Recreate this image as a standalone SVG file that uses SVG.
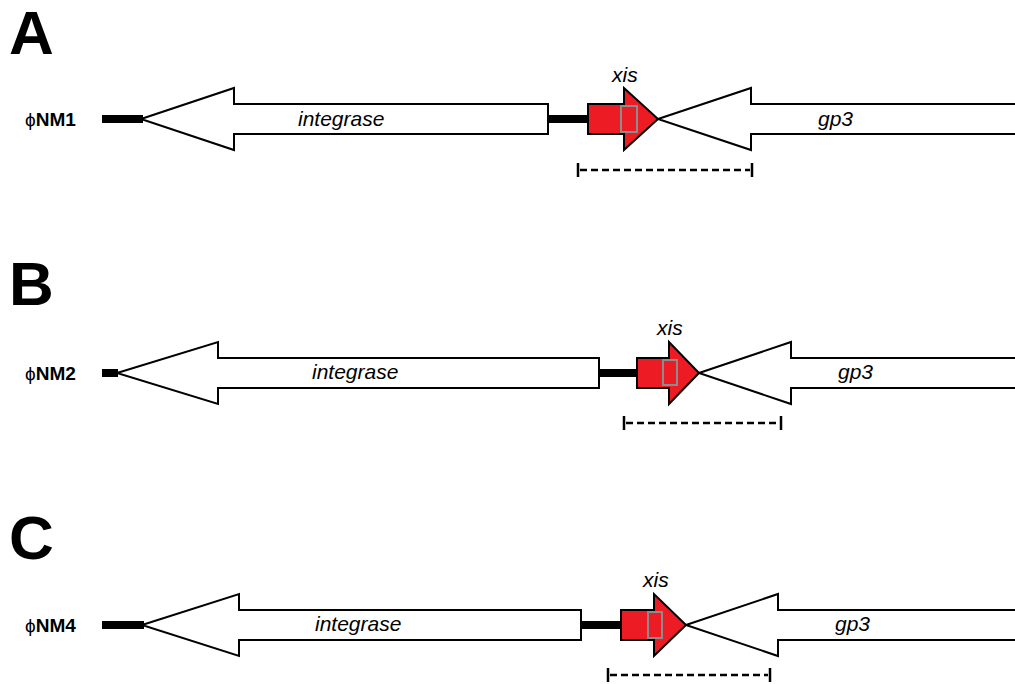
<svg xmlns="http://www.w3.org/2000/svg" width="1015" height="684" viewBox="0 0 1015 684">
<style>
.panel{font-family:"Liberation Sans",Arial,sans-serif;font-weight:bold;font-size:62px;fill:#000}
.name{font-family:"Liberation Sans",Arial,sans-serif;font-weight:bold;font-size:19px;fill:#000}
.phi{font-weight:normal}
.gene{font-family:"Liberation Sans",Arial,sans-serif;font-style:italic;font-size:21px;fill:#000}
.arrow{fill:#fff;stroke:#000;stroke-width:2;stroke-linejoin:miter}
.xis{fill:#ed1c24;stroke:#000;stroke-width:2}
.box{fill:none;stroke:#8c8c8c;stroke-width:2}
.dna{stroke:#000;stroke-width:8;fill:none}
.dash{stroke:#000;stroke-width:2.5;stroke-dasharray:7 4;fill:none}
.tick{stroke:#000;stroke-width:2.5;fill:none}
</style>
<rect width="1015" height="684" fill="#fff"/>

<text class="panel" x="9" y="54">A</text>
<text class="panel" x="9" y="305">B</text>
<text class="panel" x="9" y="559">C</text>

<g id="connectors">
  <line class="dna" x1="102" y1="119" x2="143" y2="119"/>
  <line class="dna" x1="547" y1="119" x2="589" y2="119" stroke-width="9"/>
  <line class="dna" x1="102" y1="373" x2="118" y2="373"/>
  <line class="dna" x1="598" y1="373" x2="638" y2="373" stroke-width="9"/>
  <line class="dna" x1="102" y1="625" x2="144" y2="625"/>
  <line class="dna" x1="580" y1="625" x2="622" y2="625" stroke-width="9"/>
</g>

<g id="rowA">
  <text class="name" x="25" y="126"><tspan class="phi">ϕ</tspan>NM1</text>
  <g id="A-integrase">
    <polygon class="arrow" points="141,119 234,88 234,104 548,104 548,134 234,134 234,150"/>
    <text class="gene" x="298" y="126">integrase</text>
  </g>
  <g id="A-gp3">
    <polygon class="arrow" points="658,119 751,88 751,104 1020,104 1020,134 751,134 751,150"/>
    <text class="gene" x="818" y="126">gp3</text>
  </g>
  <g id="A-xis">
    <polygon class="xis" points="588,104 624,104 624,88 658,119 624,150 624,134 588,134"/>
    <rect class="box" x="621" y="106" width="16" height="26"/>
    <text class="gene" x="612" y="82">xis</text>
  </g>
  <g id="A-region">
    <line class="dash" x1="580" y1="170" x2="750" y2="170"/>
    <line class="tick" x1="578" y1="163" x2="578" y2="177"/>
    <line class="tick" x1="752" y1="163" x2="752" y2="177"/>
  </g>
</g>

<g id="rowB">
  <text class="name" x="25" y="380"><tspan class="phi">ϕ</tspan>NM2</text>
  <g id="B-integrase">
    <polygon class="arrow" points="117,373 218,342 218,358 599,358 599,388 218,388 218,404"/>
    <text class="gene" x="312" y="379">integrase</text>
  </g>
  <g id="B-gp3">
    <polygon class="arrow" points="699,373 791,342 791,358 1020,358 1020,388 791,388 791,404"/>
    <text class="gene" x="838" y="379">gp3</text>
  </g>
  <g id="B-xis">
    <polygon class="xis" points="637,358 669,358 669,342 699,373 669,404 669,388 637,388"/>
    <rect class="box" x="663" y="360" width="14" height="25"/>
    <text class="gene" x="657" y="335">xis</text>
  </g>
  <g id="B-region">
    <line class="dash" x1="626" y1="423" x2="779" y2="423"/>
    <line class="tick" x1="624" y1="416" x2="624" y2="430"/>
    <line class="tick" x1="781" y1="416" x2="781" y2="430"/>
  </g>
</g>

<g id="rowC">
  <text class="name" x="25" y="632"><tspan class="phi">ϕ</tspan>NM4</text>
  <g id="C-integrase">
    <polygon class="arrow" points="142,625 239,594 239,610 581,610 581,640 239,640 239,656"/>
    <text class="gene" x="315" y="631">integrase</text>
  </g>
  <g id="C-gp3">
    <polygon class="arrow" points="686,625 778,594 778,610 1020,610 1020,640 778,640 778,656"/>
    <text class="gene" x="835" y="631">gp3</text>
  </g>
  <g id="C-xis">
    <polygon class="xis" points="621,610 654,610 654,594 686,625 654,656 654,640 621,640"/>
    <rect class="box" x="648" y="612" width="14" height="26"/>
    <text class="gene" x="643" y="587">xis</text>
  </g>
  <g id="C-region">
    <line class="dash" x1="610" y1="675" x2="768" y2="675"/>
    <line class="tick" x1="608" y1="668" x2="608" y2="682"/>
    <line class="tick" x1="770" y1="668" x2="770" y2="682"/>
  </g>
</g>
</svg>
